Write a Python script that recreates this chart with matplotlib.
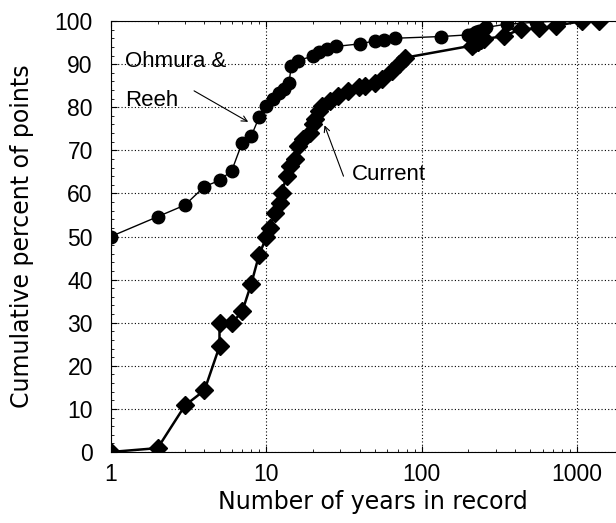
import matplotlib
matplotlib.use("Agg")
import matplotlib.pyplot as plt
from matplotlib.ticker import FixedLocator, MultipleLocator, LogLocator, NullFormatter

# ==== データ ====
ohmura_years = [1, 2, 3, 4, 5, 6, 7, 8, 9, 10, 11, 12, 13, 14, 14.5, 16, 20, 22,
                24.5, 28, 40, 50, 57, 67, 133, 200, 215, 222, 235, 250, 258,
                355, 541, 765]
ohmura_pct = [50, 54.6, 57.3, 61.6, 63, 65.3, 71.8, 73.3, 77.7, 80.3, 81.9,
              83.2, 84.2, 85.7, 89.6, 90.8, 91.9, 92.7, 93.5, 94.1, 94.7, 95.4,
              95.7, 96, 96.4, 96.8, 97, 97.4, 97.8, 98.2, 98.5, 99.3, 99.7, 100]

current_years = [1, 2, 3, 4, 5, 5, 6, 7, 8, 9, 10, 10.5, 11.4, 12.3, 12.6,
                 13.5, 14.2, 15.3, 16.1, 17.3, 19.2, 20.1, 20.6, 21.7, 22.7,
                 25.8, 29, 33.7, 39.3, 43.1, 50, 55.4, 64.5, 71, 78.4, 211,
                 220, 230, 240, 250, 338, 433, 569, 728, 1083, 1390]
current_pct = [0, 0.9, 10.8, 14.3, 24.5, 29.9, 29.9, 32.6, 39, 45.8, 49.8, 52,
               55.5, 57.8, 60.2, 64, 66.3, 67.9, 71, 72.6, 74.1, 76, 77.2,
               79.1, 80.3, 81.5, 82.6, 83.8, 84.6, 85, 85.7, 86.5, 88.4, 90,
               91.5, 94.3, 94.8, 95.2, 95.5, 95.8, 96.5, 98.1, 98.3, 98.9,
               100, 100]

x_ticks = [1, 10, 100, 1000]
x_ticklabels = ["1", "10", "100", "1000"]
y_ticks = list(range(0, 101, 10))

# ==== 描画 ====
fig = plt.figure(figsize=(6.16, 5.23), dpi=100)
ax = fig.add_axes([0.180, 0.1358, 0.820, 0.824])

ax.plot(ohmura_years, ohmura_pct, color="black", lw=1.0, marker="o",
        ms=9, zorder=3)
ax.plot(current_years, current_pct, color="black", lw=1.8, marker="D",
        ms=9, zorder=3)

ax.set_xscale("log")
ax.set_xlim(1, 1780)
ax.set_ylim(0, 100)
ax.xaxis.set_major_locator(FixedLocator(x_ticks))
ax.set_xticklabels(x_ticklabels)
ax.xaxis.set_minor_locator(LogLocator(base=10, subs=range(2, 10)))
ax.xaxis.set_minor_formatter(NullFormatter())
ax.set_yticks(y_ticks)
ax.yaxis.set_minor_locator(MultipleLocator(2))

ax.tick_params(which="both", direction="in", top=True, colors="black")
ax.tick_params(which="major", length=4)
ax.tick_params(which="minor", length=2.5)
ax.tick_params(axis="x", which="major", pad=8)
ax.tick_params(axis="y", which="major", pad=13)
for lab in ax.get_xticklabels() + ax.get_yticklabels():
    lab.set_family("Liberation Sans")
    lab.set_fontsize(16.5)
ax.spines["right"].set_visible(False)

ax.grid(True, which="major", color="black", linestyle=(0, (1, 2)), lw=0.8)

ax.set_xlabel("Number of years in record", fontsize=17, va="top")
ax.xaxis.set_label_coords(0.519, -0.088)
ax.set_ylabel("Cumulative percent of points", fontsize=17, labelpad=15)

# 注記
ax.text(1.23, 90.7, "Ohmura &", fontsize=16, family="Liberation Sans",
        va="center", ha="left")
ax.text(1.23, 81.6, "Reeh", fontsize=16, family="Liberation Sans",
        va="center", ha="left")
ax.annotate("", xy=(7.65, 76.6), xytext=(3.43, 83.8),
            arrowprops=dict(arrowstyle="->", color="black", lw=0.8,
                            shrinkA=0, shrinkB=0))
ax.text(35.5, 64.4, "Current", fontsize=16, family="Liberation Sans",
        va="center", ha="left")
ax.annotate("", xy=(23.7, 75.8), xytext=(31.4, 64.0),
            arrowprops=dict(arrowstyle="->", color="black", lw=0.8,
                            shrinkA=0, shrinkB=0))

fig.savefig("out.png", dpi=100)
